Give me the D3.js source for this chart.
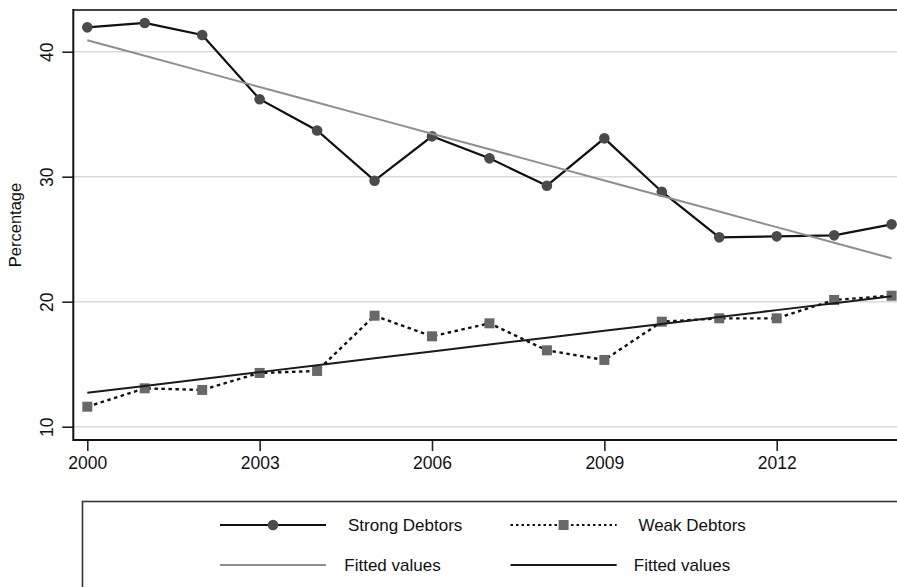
<!DOCTYPE html>
<html>
<head>
<meta charset="utf-8">
<script src="https://cdn.jsdelivr.net/npm/d3@7"></script>
<style>
html,body{margin:0;padding:0;background:#fff;}
svg{display:block;font-family:"Liberation Sans",Arial,Helvetica,sans-serif;}
</style>
</head>
<body>
<svg id="chart" width="897" height="587"></svg>
<script>
const years = [2000,2001,2002,2003,2004,2005,2006,2007,2008,2009,2010,2011,2012,2013,2014];
const strongDebtors = [41.95,42.3,41.34,36.2,33.7,29.68,33.23,31.47,29.28,33.07,28.8,25.15,25.23,25.31,26.19];
const weakDebtors = [11.6,13.07,12.94,14.3,14.46,18.88,17.23,18.27,16.11,15.34,18.4,18.67,18.67,20.14,20.48];
const xTicks = [2000,2003,2006,2009,2012];
const yTicks = [10,20,30,40];
const legendLabels = ["Strong Debtors","Weak Debtors","Fitted values","Fitted values"];

// OLS fitted values
function fit(xs, ys){
  const n = xs.length, mx = d3.mean(xs), my = d3.mean(ys);
  let sxy=0, sxx=0;
  for(let i=0;i<n;i++){ sxy += (xs[i]-mx)*(ys[i]-my); sxx += (xs[i]-mx)*(xs[i]-mx); }
  const b = sxy/sxx, a = my - b*mx;
  return xs.map(x => a + b*x);
}
const strongFit = fit(years, strongDebtors);
const weakFit = fit(years, weakDebtors);

const FONT = '"Liberation Sans",Arial,Helvetica,sans-serif';
const svg = d3.select("#chart");
const frameL = 73.3, frameT = 10, frameB = 440, frameR = 897;
const x = d3.scaleLinear().domain([2000,2014]).range([87.3, 891.6]);
const y = d3.scaleLinear().domain([10,40]).range([426.7, 51.7]);

// gridlines
svg.append("g").selectAll("line").data(yTicks).join("line")
  .attr("x1", frameL).attr("x2", frameR)
  .attr("y1", d=>y(d)).attr("y2", d=>y(d))
  .attr("stroke", "#dadada").attr("stroke-width", 1.6);

// frame top
svg.append("line").attr("x1", frameL).attr("x2", frameR).attr("y1", frameT).attr("y2", frameT)
  .attr("stroke", "#444").attr("stroke-width", 2);

// axes
const yAxis = d3.axisLeft(y).tickValues(yTicks).tickSize(11).tickPadding(5);
const gy = svg.append("g").attr("transform", `translate(${frameL},0)`).attr("font-family", FONT).call(yAxis);
gy.attr("font-family", FONT);
gy.select(".domain").remove();
gy.selectAll(".tick line").attr("stroke", "#222").attr("stroke-width", 1.6);
gy.selectAll(".tick text")
  .attr("font-size", 17.5).attr("fill", "#111").attr("font-family", FONT)
  .attr("text-anchor", "middle")
  .attr("transform", `translate(-20,0) rotate(-90)`)
  .attr("x", 0).attr("y", 0).attr("dy", "0");

const xAxis = d3.axisBottom(x).tickValues(xTicks).tickFormat(d3.format("d")).tickSize(11).tickPadding(6);
const gx = svg.append("g").attr("transform", `translate(0,${frameB})`).call(xAxis);
gx.attr("font-family", FONT);
gx.select(".domain").remove();
gx.selectAll(".tick line").attr("stroke", "#222").attr("stroke-width", 1.6);
gx.selectAll(".tick text").attr("font-size", 17.5).attr("fill", "#111").attr("font-family", FONT);

svg.append("line").attr("x1", frameL).attr("x2", frameL).attr("y1", frameT-1).attr("y2", frameB+1)
  .attr("stroke", "#111").attr("stroke-width", 2);
svg.append("line").attr("x1", frameL).attr("x2", frameR).attr("y1", frameB).attr("y2", frameB)
  .attr("stroke", "#111").attr("stroke-width", 2);

// y title
svg.append("text").attr("transform", `translate(21,${(frameT+frameB)/2}) rotate(-90)`)
  .attr("text-anchor", "middle").attr("font-size", 16.5).attr("fill", "#111").text("Percentage");

const line = d3.line().x((d,i)=>x(years[i])).y(d=>y(d));

// strong
svg.append("path").datum(strongDebtors).attr("d", line)
  .attr("fill","none").attr("stroke","#111").attr("stroke-width",2.2);
// weak
svg.append("path").datum(weakDebtors).attr("d", line)
  .attr("fill","none").attr("stroke","#111").attr("stroke-width",2.4).attr("stroke-dasharray","3.5,3.5");

// markers
svg.append("g").selectAll("circle").data(strongDebtors).join("circle")
  .attr("cx",(d,i)=>x(years[i])).attr("cy",d=>y(d)).attr("r",5.3).attr("fill","#4a4a4a");
const sq = 10;
svg.append("g").selectAll("rect").data(weakDebtors).join("rect")
  .attr("x",(d,i)=>x(years[i])-sq/2).attr("y",d=>y(d)-sq/2).attr("width",sq).attr("height",sq).attr("fill","#686868");

// fitted
svg.append("path").datum(strongFit).attr("d", line)
  .attr("fill","none").attr("stroke","#8f8f8f").attr("stroke-width",2);
svg.append("path").datum(weakFit).attr("d", line)
  .attr("fill","none").attr("stroke","#1a1a1a").attr("stroke-width",2);

// legend
const lg = svg.append("g");
lg.append("rect").attr("x",82.5).attr("y",501.5).attr("width",900).attr("height",200)
  .attr("fill","#fff").attr("stroke","#333").attr("stroke-width",1.6);
const row1 = 525, row2 = 565;
const c1 = [220, 326], c2 = [510.5, 616.7];
// strong
lg.append("line").attr("x1",c1[0]).attr("x2",c1[1]).attr("y1",row1).attr("y2",row1).attr("stroke","#111").attr("stroke-width",2.2);
lg.append("circle").attr("cx",(c1[0]+c1[1])/2).attr("cy",row1).attr("r",5.3).attr("fill","#4a4a4a");
// weak
lg.append("line").attr("x1",c2[0]).attr("x2",c2[1]).attr("y1",row1).attr("y2",row1).attr("stroke","#111").attr("stroke-width",2.2).attr("stroke-dasharray","2.5,3");
lg.append("rect").attr("x",(c2[0]+c2[1])/2-sq/2).attr("y",row1-sq/2).attr("width",sq).attr("height",sq).attr("fill","#686868");
// fits
lg.append("line").attr("x1",c1[0]).attr("x2",c1[1]).attr("y1",row2).attr("y2",row2).attr("stroke","#8f8f8f").attr("stroke-width",2);
lg.append("line").attr("x1",c2[0]).attr("x2",c2[1]).attr("y1",row2).attr("y2",row2).attr("stroke","#1a1a1a").attr("stroke-width",2);

const lpos = [[348,row1],[638.4,row1],[344.3,row2],[633.8,row2]];
lg.selectAll("text.lab").data(legendLabels).join("text").attr("class","lab")
  .attr("x",(d,i)=>lpos[i][0]).attr("y",(d,i)=>lpos[i][1]).attr("dy","0.35em")
  .attr("font-size",17).attr("fill","#111").text(d=>d);
</script>
</body>
</html>
